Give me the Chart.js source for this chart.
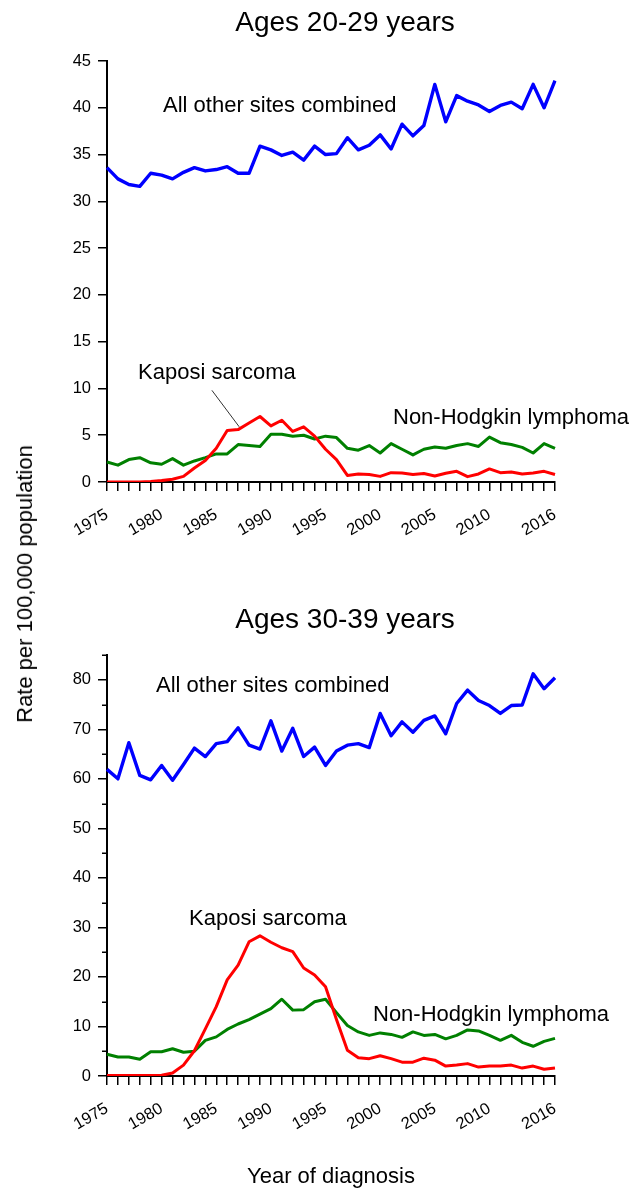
<!DOCTYPE html>
<html><head><meta charset="utf-8">
<script src="https://cdn.jsdelivr.net/npm/chart.js@4/dist/chart.umd.min.js"></script>
<style>
html,body{margin:0;padding:0;background:#fff;}
#wrap{position:relative;width:634px;height:1189px;overflow:hidden;font-family:"Liberation Sans",Arial,sans-serif;color:#000;}
canvas{position:absolute;left:0;}
.t{position:absolute;white-space:nowrap;line-height:1;font-size:22px;}
.title{font-size:28px;transform:translateX(-50%);}
</style></head><body>
<div id="wrap">
<canvas id="c1" width="634" height="560" style="top:0px"></canvas>
<canvas id="c2" width="634" height="629" style="top:560px"></canvas>
<div class="t title" style="left:345px;top:8px;">Ages 20-29 years</div>
<div class="t title" style="left:345px;top:605px;">Ages 30-39 years</div>
<div class="t" style="left:163px;top:94px;">All other sites combined</div>
<div class="t" style="left:138px;top:361px;">Kaposi sarcoma</div>
<div class="t" style="left:393px;top:406px;">Non-Hodgkin lymphoma</div>
<div class="t" style="left:156px;top:674px;">All other sites combined</div>
<div class="t" style="left:189px;top:907px;">Kaposi sarcoma</div>
<div class="t" style="left:373px;top:1003px;">Non-Hodgkin lymphoma</div>
<div class="t" style="left:25px;top:584px;transform:translate(-50%,-50%) rotate(-90deg);">Rate per 100,000 population</div>
<div class="t" style="left:247px;top:1165px;">Year of diagnosis</div>
</div>
<script>
const years = [1975,1976,1977,1978,1979,1980,1981,1982,1983,1984,1985,1986,1987,1988,1989,1990,1991,1992,1993,1994,1995,1996,1997,1998,1999,2000,2001,2002,2003,2004,2005,2006,2007,2008,2009,2010,2011,2012,2013,2014,2015,2016];
const labeledYears = [1975,1980,1985,1990,1995,2000,2005,2010,2016];

// Ages 20-29
const allOther20 = [33.6,32.4,31.8,31.6,33.0,32.8,32.4,33.1,33.6,33.25,33.4,33.7,33.0,33.0,35.9,35.5,34.9,35.25,34.4,35.9,35.0,35.1,36.8,35.5,36.0,37.1,35.6,38.25,37.0,38.1,42.5,38.5,41.3,40.7,40.3,39.6,40.25,40.6,39.9,42.5,40.0,42.9];
const kaposi20 = [0,0,0,0,0.05,0.15,0.3,0.6,1.5,2.3,3.6,5.5,5.6,6.3,7.0,6.0,6.6,5.4,5.9,4.9,3.5,2.4,0.7,0.85,0.8,0.6,1.0,0.96,0.8,0.9,0.64,0.93,1.14,0.57,0.86,1.4,1.0,1.07,0.86,0.96,1.14,0.8];
const nhl20 = [2.14,1.8,2.4,2.6,2.05,1.9,2.5,1.8,2.25,2.6,3.0,3.0,4.0,3.9,3.8,5.1,5.1,4.9,5.0,4.6,4.9,4.75,3.6,3.4,3.9,3.1,4.1,3.5,2.9,3.5,3.75,3.6,3.9,4.1,3.8,4.8,4.2,4.0,3.7,3.1,4.1,3.6];

// Ages 30-39
const allOther30 = [61.9,60.0,67.3,60.7,59.8,62.7,59.7,62.9,66.2,64.5,67.1,67.5,70.3,66.8,66.0,71.7,65.6,70.2,64.5,66.4,62.7,65.6,66.8,67.1,66.3,73.2,68.7,71.5,69.4,71.8,72.7,69.1,75.2,77.9,75.8,74.8,73.2,74.8,74.9,81.2,78.2,80.4];
const kaposi30 = [0.1,0.1,0.1,0.1,0.1,0.15,0.6,2.2,5.1,9.5,14.0,19.4,22.4,27.1,28.3,27.0,25.9,25.1,21.8,20.4,18.0,11.4,5.2,3.7,3.5,4.1,3.5,2.8,2.8,3.6,3.2,2.0,2.2,2.5,1.8,2.0,2.0,2.2,1.6,2.0,1.35,1.6];
const nhl30 = [4.4,3.85,3.85,3.4,4.9,4.9,5.5,4.8,5.0,7.2,7.9,9.4,10.5,11.4,12.5,13.6,15.5,13.3,13.4,15.0,15.5,12.8,10.2,8.9,8.2,8.7,8.4,7.8,8.9,8.2,8.4,7.5,8.2,9.3,9.1,8.2,7.2,8.2,6.8,6.0,7.0,7.6];

const FONT = '"Liberation Sans", Arial, sans-serif';
const BLUE = 'rgb(0,0,255)', RED = 'rgb(255,0,0)', GREEN = 'rgb(0,128,0)';

const pointerPlugin = {
  id: 'pointer',
  afterDatasetsDraw(chart) {
    const xs = chart.scales.x, ys = chart.scales.y, ctx = chart.ctx;
    ctx.save();
    ctx.strokeStyle = '#333'; ctx.lineWidth = 1;
    ctx.beginPath();
    ctx.moveTo(xs.getPixelForValue(9.6), ys.getPixelForValue(9.8));
    ctx.lineTo(xs.getPixelForValue(12.1), ys.getPixelForValue(5.9));
    ctx.stroke();
    ctx.restore();
  }
};
const minorPlugin = {
  id: 'minor',
  afterDraw(chart) {
    const ys = chart.scales.y, ctx = chart.ctx, left = chart.chartArea.left;
    ctx.save();
    ctx.strokeStyle = '#000'; ctx.lineWidth = 1.5;
    for (let v = 5; v <= 85; v += 10) {
      const p = Math.round(ys.getPixelForValue(v)) + 0.25;
      ctx.beginPath(); ctx.moveTo(left - 5, p); ctx.lineTo(left, p); ctx.stroke();
    }
    ctx.restore();
  }
};

function build(id, all, ks, nhl, yMax, yStep, padTop, xHeight, plugins) {
  const axisGrid = {display:true, drawOnChartArea:false, drawTicks:true, tickLength:9, color:'#000', tickColor:'#000', lineWidth:1.5, tickWidth:1.5};
  const border = {display:true, color:'#000', width:2};
  return new Chart(document.getElementById(id), {
    type: 'line',
    data: {
      labels: years.map(String),
      datasets: [
        {data: ks, borderColor: RED, borderWidth: 3},
        {data: nhl, borderColor: GREEN, borderWidth: 3},
        {data: all, borderColor: BLUE, borderWidth: 3.4}
      ]
    },
    options: {
      responsive: false, animation: false, devicePixelRatio: 1,
      layout: {padding: {left: 0, right: 79, top: padTop, bottom: 0}},
      elements: {point: {radius: 0}, line: {tension: 0, fill: false, borderJoinStyle: 'round'}},
      plugins: {legend: {display: false}, tooltip: {enabled: false}},
      scales: {
        x: {
          type: 'category', offset: false,
          grid: Object.assign({offset: false}, axisGrid), border: border,
          ticks: {autoSkip: false, maxRotation: 30, minRotation: 30, padding: 14, color: '#000',
            font: {family: FONT, size: 16.5},
            callback: (v, i) => labeledYears.includes(years[i]) ? String(years[i]) : ''},
          afterFit: s => { s.height = xHeight; }
        },
        y: {
          min: 0, max: yMax,
          grid: axisGrid, border: border,
          ticks: {stepSize: yStep, includeBounds: false, padding: 7, color: '#000', font: {family: FONT, size: 16.5}},
          afterFit: s => { s.width = 107; }
        }
      }
    },
    plugins: plugins
  });
}

build('c1', allOther20, kaposi20, nhl20, 45, 5, 61, 78, [pointerPlugin]);
build('c2', allOther30, kaposi30, nhl30, 85, 10, 95, 113, [minorPlugin]);
</script>
</body></html>
